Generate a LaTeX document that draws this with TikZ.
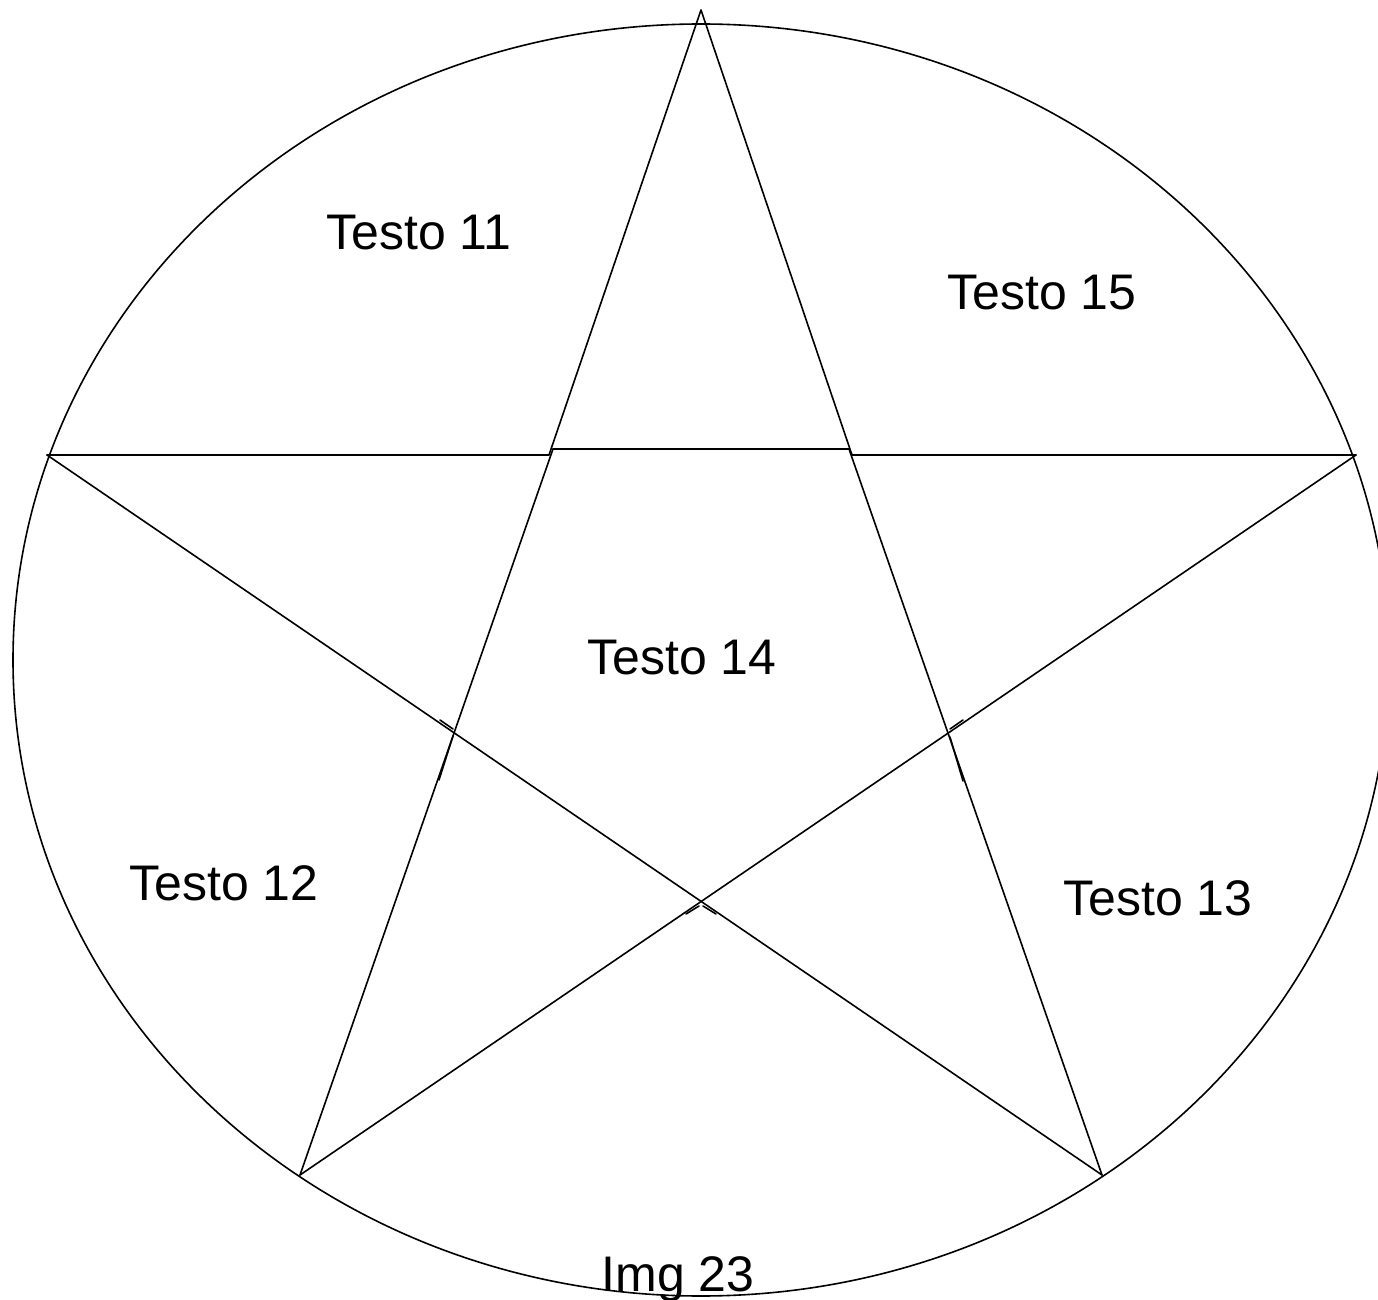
\documentclass[tikz,border=0pt]{standalone}
\usepackage{fontspec}
\setmainfont{Liberation Sans}
\usetikzlibrary{positioning}

\tikzset{
	label text/.style={font=\fontsize{25}{30}\selectfont, inner sep=0pt, anchor=base},
	star line/.style={line width=0.8pt, line cap=round, line join=round}
}

\begin{document}
\begin{tikzpicture}[x=0.5pt, y=-0.5pt]
		\useasboundingbox (0,0) rectangle (1378,1300);
		% outer ring
		\draw[star line] (701,660) ellipse [x radius=688, y radius=636];
		% star corners
		\coordinate (tp) at (701,10);
		\coordinate (lt) at (47,455);
		\coordinate (rt) at (1356,455);
		\coordinate (bl) at (300,1175);
		\coordinate (br) at (1102,1175);
		% inner corners
		\coordinate (il) at (549,455);
		\coordinate (ir) at (852,455);
		\coordinate (pl) at (553,449);
		\coordinate (pr) at (849,449);
		% spikes
		\draw[star line] (lt) -- (il) -- (tp) -- (ir) -- (rt);
		\draw[star line] (pl) -- (pr);
		\draw[star line] (pl) -- (bl);
		\draw[star line] (pr) -- (br);
		\draw[star line] (lt) -- (br);
		\draw[star line] (rt) -- (bl);
		% small overlaps at the crossings
		\draw[star line] (439,780) -- (453,736);
		\draw[star line] (440,720) -- (453,729);
		\draw[star line] (963,781) -- (950,737);
		\draw[star line] (963,720) -- (950,729);
		\draw[star line] (686,914) -- (699,906);
		\draw[star line] (703,906) -- (716,914);
		% labels
		\node[label text] (t11) at (419,250) {Testo 11};
		\node[label text] (t15) at (1042,310) {Testo 15};
		\node[label text] (t14) at (682,675) {Testo 14};
		\node[label text] (t12) at (224,900) {Testo 12};
		\node[label text] (t13) at (1158,915) {Testo 13};
		\node[label text] (img) at (678,1291) {Img 23};
\end{tikzpicture}
\end{document}
